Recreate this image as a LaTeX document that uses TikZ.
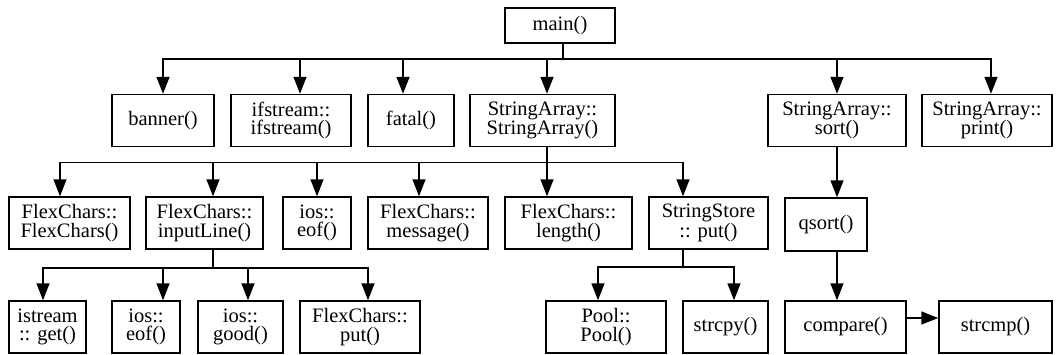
\documentclass[tikz,border=0pt]{standalone}
\usepackage{fontspec}
\setmainfont{Liberation Serif}
\usetikzlibrary{arrows.meta}

\tikzset{
  fn/.style={draw, line width=1.5pt, align=center, inner sep=0pt,
    minimum height=52, font=\fontsize{20.5}{18.5}\selectfont},
  call/.style={line width=1.5pt, -{Triangle[length=17pt,width=13pt]}}
}

\begin{document}
\begin{tikzpicture}[x=1pt, y=-1pt]
    \useasboundingbox (0,0) rectangle (1060,354);
    % top
    \node[fn, minimum height=35, minimum width=110] (main) at (560,25.5) {main()};
    % first level
    \node[fn, minimum width=102] (banner) at (163,120.5) {banner()};
    \node[fn, minimum width=120] (ifs) at (291,120.5) {ifstream::\\ifstream()};
    \node[fn, minimum width=86] (fatal) at (411,120.5) {fatal()};
    \node[fn, minimum width=145] (sarr) at (542.5,120.5) {StringArray::\\StringArray()};
    \node[fn, minimum width=138] (sort) at (837,120.5) {StringArray::\\sort()};
    \node[fn, minimum width=130] (print) at (987,120.5) {StringArray::\\print()};
    % second level
    \node[fn, minimum width=121] (fcc) at (69.5,223) {FlexChars::\\FlexChars()};
    \node[fn, minimum width=117] (inl) at (204.5,223) {FlexChars::\\inputLine()};
    \node[fn, minimum width=68] (eofa) at (317,223) {ios::\\eof()};
    \node[fn, minimum width=120] (msg) at (428,223) {FlexChars::\\message()};
    \node[fn, minimum width=127] (len) at (568.5,223) {FlexChars::\\length()};
    \node[fn, minimum width=119] (ssput) at (708.5,223) {StringStore\\:: put()};
    \node[fn, minimum width=82, minimum height=53] (qsort) at (826,224.5) {qsort()};
    % third level
    \node[fn, minimum width=77] (get) at (47.5,327) {istream\\:: get()};
    \node[fn, minimum width=68] (eofb) at (146,327) {ios::\\eof()};
    \node[fn, minimum width=85] (good) at (240.5,327) {ios::\\good()};
    \node[fn, minimum width=120] (fput) at (360,327) {FlexChars::\\put()};
    \node[fn, minimum width=120] (pool) at (606,327) {Pool::\\Pool()};
    \node[fn, minimum width=85] (strcpy) at (725.5,327) {strcpy()};
    \node[fn, minimum width=121] (compare) at (845.5,327) {compare()};
    \node[fn, minimum width=113] (strcmp) at (995.5,327) {strcmp()};

    % calls from main()
    \draw[call] ([xshift=3]main.south) -- ++(0,15) -| (banner.north);
    \draw[call] ([xshift=3]main.south) -- ++(0,15) -| ([xshift=9]ifs.north);
    \draw[call] ([xshift=3]main.south) -- ++(0,15) -| ([xshift=-8]fatal.north);
    \draw[call] ([xshift=3]main.south) -- ++(0,15) -| ([xshift=4.5]sarr.north);
    \draw[call] ([xshift=3]main.south) -- ++(0,15) -| (sort.north);
    \draw[call] ([xshift=3]main.south) -- ++(0,15) -| ([xshift=4]print.north);
    % calls from StringArray::StringArray()
    \draw[call] ([xshift=4.5]sarr.south) -- ++(0,15) -| ([xshift=-9.5]fcc.north);
    \draw[call] ([xshift=4.5]sarr.south) -- ++(0,15) -| ([xshift=8.5]inl.north);
    \draw[call] ([xshift=4.5]sarr.south) -- ++(0,15) -| (eofa.north);
    \draw[call] ([xshift=4.5]sarr.south) -- ++(0,15) -| ([xshift=-9]msg.north);
    \draw[call] ([xshift=4.5]sarr.south) -- ++(0,15) -| ([xshift=-21.5]len.north);
    \draw[call] ([xshift=4.5]sarr.south) -- ++(0,15) -| ([xshift=-25.5]ssput.north);
    % calls from FlexChars::inputLine()
    \draw[call] ([xshift=8.5]inl.south) -- ++(0,18) -| ([xshift=-4.5]get.north);
    \draw[call] ([xshift=8.5]inl.south) -- ++(0,18) -| ([xshift=17]eofb.north);
    \draw[call] ([xshift=8.5]inl.south) -- ++(0,18) -| ([xshift=7.5]good.north);
    \draw[call] ([xshift=8.5]inl.south) -- ++(0,18) -| ([xshift=8]fput.north);
    % calls from StringStore::put()
    \draw[call] ([xshift=-25.5]ssput.south) -- ++(0,17) -| ([xshift=-8]pool.north);
    \draw[call] ([xshift=-25.5]ssput.south) -- ++(0,17) -| ([xshift=8.5]strcpy.north);
    % sorting
    \draw[call] (sort.south) -- ([xshift=11]qsort.north);
    \draw[call] ([xshift=11]qsort.south) -- ([xshift=-8.5]compare.north);
    \draw[call] ([yshift=9]compare.east) -- ([yshift=9]strcmp.west);
\end{tikzpicture}
\end{document}
